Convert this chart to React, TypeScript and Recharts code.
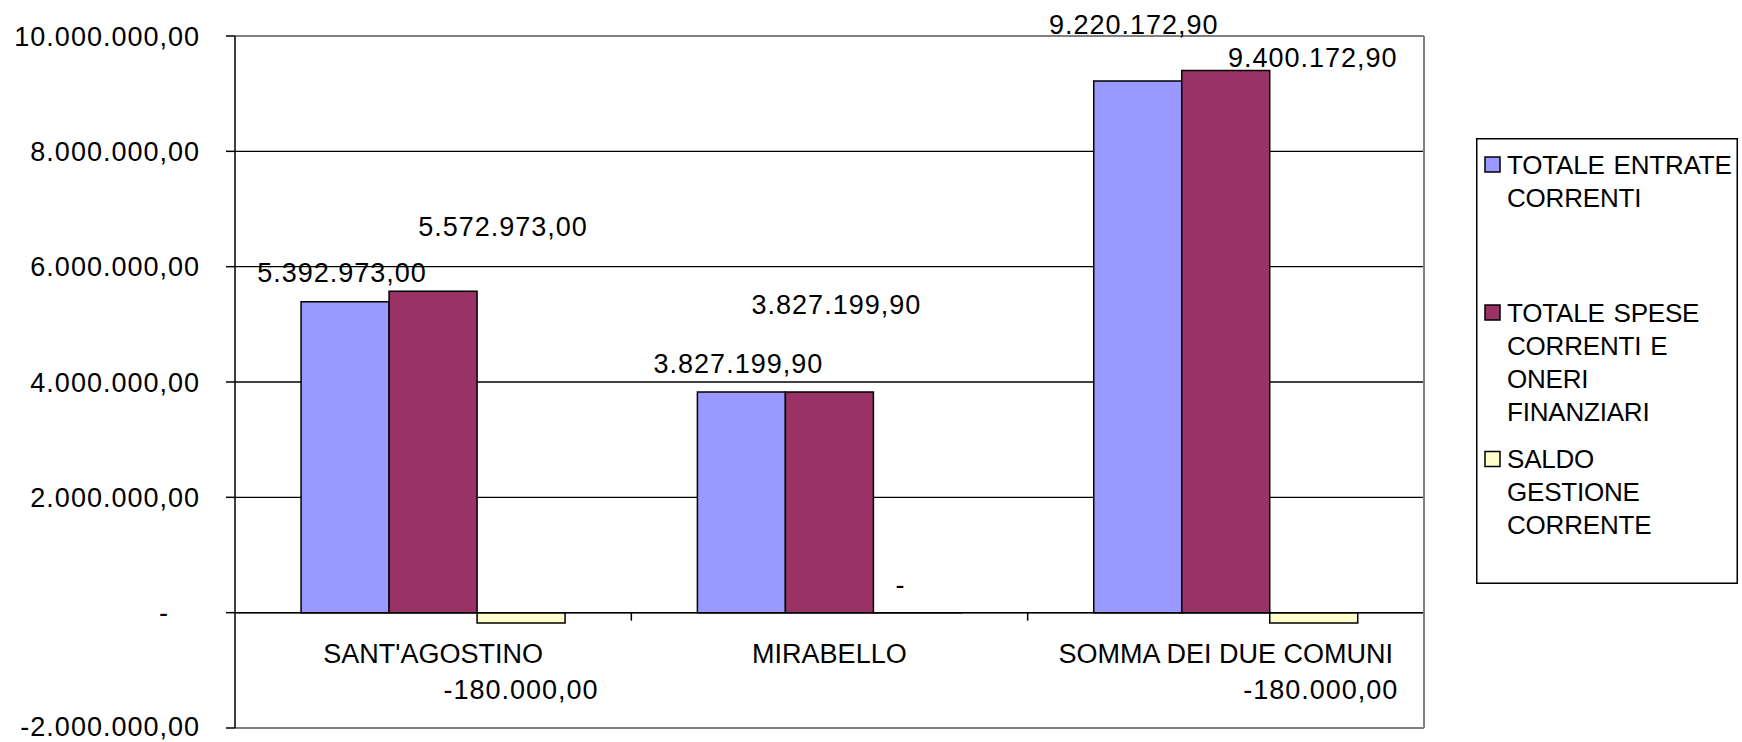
import React from 'react';
import { BarChart, Bar, XAxis, YAxis, CartesianGrid, ReferenceLine, LabelList, Legend } from 'recharts';

// ---------- data ----------
const categories = ["SANT'AGOSTINO", 'MIRABELLO', 'SOMMA DEI DUE COMUNI'];
const entrateCorrenti = [5392973.0, 3827199.9, 9220172.9];
const speseCorrenti = [5572973.0, 3827199.9, 9400172.9];
const saldoGestione = [-180000.0, 0, -180000.0];
const yTicks = [-2000000, 0, 2000000, 4000000, 6000000, 8000000, 10000000];
const seriesNames = [
  'TOTALE ENTRATE CORRENTI',
  'TOTALE SPESE CORRENTI E ONERI FINANZIARI',
  'SALDO GESTIONE CORRENTE',
];
const legendLines = [
  ['TOTALE ENTRATE', 'CORRENTI'],
  ['TOTALE SPESE', 'CORRENTI E', 'ONERI', 'FINANZIARI'],
  ['SALDO', 'GESTIONE', 'CORRENTE'],
];

const data = categories.map((name, i) => ({
  name,
  entrate: entrateCorrenti[i],
  spese: speseCorrenti[i],
  saldo: saldoGestione[i],
}));

// ---------- styling ----------
const FONT = '"Liberation Sans", Arial, Helvetica, sans-serif';
const COLORS = { entrate: '#9999FF', spese: '#993366', saldo: '#FFFFCC' };
const CAP = 9.7; // baseline offset from cap centre (27px font)
const numText: React.CSSProperties = { fontFamily: FONT, fontSize: 27, letterSpacing: 1, fill: '#000' };
const catText: React.CSSProperties = { fontFamily: FONT, fontSize: 27, fill: '#000' };

// label nudges (Excel manual label placement), relative to bar end
const NUDGE: Record<string, number[][]> = {
  entrate: [[-3, -29], [-3, -29], [-4, -57]],
  spese: [[70, -65], [7, -88], [87, -13]],
  saldo: [[0, 66], [-17, -28], [7, 66]],
};
const VALUES: Record<string, number[]> = { entrate: entrateCorrenti, spese: speseCorrenti, saldo: saldoGestione };

function fmt(v: number): string {
  if (v === 0) return '-';
  const neg = v < 0;
  const [ip, dp] = Math.abs(v).toFixed(2).split('.');
  const grouped = ip.replace(/\B(?=(\d{3})+(?!\d))/g, '.');
  return (neg ? '-' : '') + grouped + ',' + dp;
}

const nameAccessor = (entry: any, i: number) =>
  entry && entry.payload && entry.payload.name !== undefined ? entry.payload.name : i;

const indexOf = (p: any) => (typeof p.value === 'string' ? categories.indexOf(p.value) : Number(p.index));

const makeValueLabel = (key: string) => (p: any) => {
  const idx = indexOf(p);
  const v = VALUES[key][idx];
  if (v === undefined) return null;
  const x = Number(p.x), y = Number(p.y), w = Number(p.width), h = Number(p.height) || 0;
  const top = Math.min(y, y + h);
  const bottom = Math.max(y, y + h);
  const anchorY = v < 0 ? bottom : v === 0 ? bottom : top;
  const [dx, dy] = NUDGE[key][idx] || [0, -20];
  return (
    <text key={`${key}-${idx}`} x={x + w / 2 + dx} y={anchorY + dy + CAP} textAnchor="middle" style={numText}>
      {fmt(v)}
    </text>
  );
};

const categoryLabel = (p: any) => {
  const idx = indexOf(p);
  const x = Number(p.x), y = Number(p.y), w = Number(p.width), h = Number(p.height) || 0;
  const bottom = Math.max(y, y + h);
  return (
    <text key={`cat-${idx}`} x={x + w / 2} y={bottom + 41 + CAP} textAnchor="middle" style={catText}>
      {categories[idx]}
    </text>
  );
};

const YTick = (props: any) => {
  const { x, y, payload } = props;
  const v = Number(payload.value);
  const lift = v === yTicks[0] ? -2 : 0;
  return (
    <text x={v === 0 ? x - 31 : x} y={y + CAP + lift} textAnchor="end" style={numText}>
      {fmt(v)}
    </text>
  );
};

const AxisTicks = (props: any) => {
  const vb = props.viewBox;
  if (!vb) return null;
  const n = categories.length;
  return (
    <g>
      {categories.map((_, i) => {
        const tx = vb.x + ((i + 1) * vb.width) / n;
        return <line key={`t${i}`} x1={tx} x2={tx} y1={vb.y} y2={vb.y + 8} stroke="#000" strokeWidth={1.5} />;
      })}
    </g>
  );
};

const LegendBox = (props: any) => {
  const payload: any[] = props.payload || [];
  const entries = seriesNames.map((nm, i) => {
    const found = payload.find((e) => e.value === nm);
    const key = ['entrate', 'spese', 'saldo'][i];
    return { lines: legendLines[i], color: (found && found.color) || (COLORS as any)[key] };
  });
  const starts = [26.5, 174.5, 321];
  return (
    <svg width={262} height={446} style={{ display: 'block' }}>
      <rect x={0.75} y={0.75} width={260.5} height={444.5} fill="#fff" stroke="#000" strokeWidth={1.5} />
      {entries.map((e, i) => (
        <g key={i}>
          <rect x={9} y={starts[i] - 7.5} width={15} height={15} fill={e.color} stroke="#000" strokeWidth={1.5} />
          {e.lines.map((ln, k) => (
            <text
              key={k}
              x={31}
              y={starts[i] + k * 33 + 9.3}
              style={{ fontFamily: FONT, fontSize: 26, letterSpacing: -0.2, wordSpacing: 2, fill: '#000' }}
            >
              {ln}
            </text>
          ))}
        </g>
      ))}
    </svg>
  );
};

export default function App() {
  return (
    <div style={{ position: 'absolute', left: 0, top: 0, width: 1742, height: 742, background: '#fff' }}>
      <BarChart
        width={1742}
        height={742}
        data={data}
        margin={{ top: 36, right: 317, bottom: 14, left: 0 }}
        barCategoryGap="16.67%"
        barGap={0}
      >
        <CartesianGrid vertical={false} stroke="#000" strokeWidth={1.3} />
        <XAxis dataKey="name" hide />
        <YAxis
          width={235}
          domain={[-2000000, 10000000]}
          ticks={yTicks}
          interval={0}
          tickSize={9}
          tickMargin={26}
          axisLine={{ stroke: '#000', strokeWidth: 1.5 }}
          tickLine={{ stroke: '#000', strokeWidth: 1.5 }}
          tick={<YTick />}
        />
        <YAxis
          yAxisId="r"
          orientation="right"
          width={1}
          domain={[-2000000, 10000000]}
          ticks={yTicks}
          tick={false}
          tickLine={false}
          axisLine={{ stroke: '#808080', strokeWidth: 2 }}
        />
        <ReferenceLine y={10000000} stroke="#808080" strokeWidth={2} />
        <ReferenceLine y={-2000000} stroke="#808080" strokeWidth={2} />
        <Bar dataKey="entrate" name={seriesNames[0]} fill={COLORS.entrate} stroke="#000" strokeWidth={1.5} isAnimationActive={false}>
          <LabelList dataKey="entrate" valueAccessor={nameAccessor} content={makeValueLabel('entrate')} />
        </Bar>
        <Bar dataKey="spese" name={seriesNames[1]} fill={COLORS.spese} stroke="#000" strokeWidth={1.5} isAnimationActive={false}>
          <LabelList dataKey="spese" valueAccessor={nameAccessor} content={makeValueLabel('spese')} />
          <LabelList dataKey="spese" valueAccessor={nameAccessor} content={categoryLabel} />
        </Bar>
        <Bar
          dataKey="saldo"
          name={seriesNames[2]}
          fill={COLORS.saldo}
          stroke="#000"
          strokeWidth={1.5}
          minPointSize={0.01}
          isAnimationActive={false}
        >
          <LabelList dataKey="saldo" valueAccessor={nameAccessor} content={makeValueLabel('saldo')} />
        </Bar>
        <ReferenceLine y={0} stroke="#000" strokeWidth={1.5} label={(p: any) => <AxisTicks {...p} />} />
        <Legend
          layout="vertical"
          align="center"
          verticalAlign="middle"
          width={262}
          height={446}
          wrapperStyle={{ left: 1476, top: 138, width: 262, height: 446 }}
          content={(p: any) => <LegendBox {...p} />}
        />
      </BarChart>
    </div>
  );
}
